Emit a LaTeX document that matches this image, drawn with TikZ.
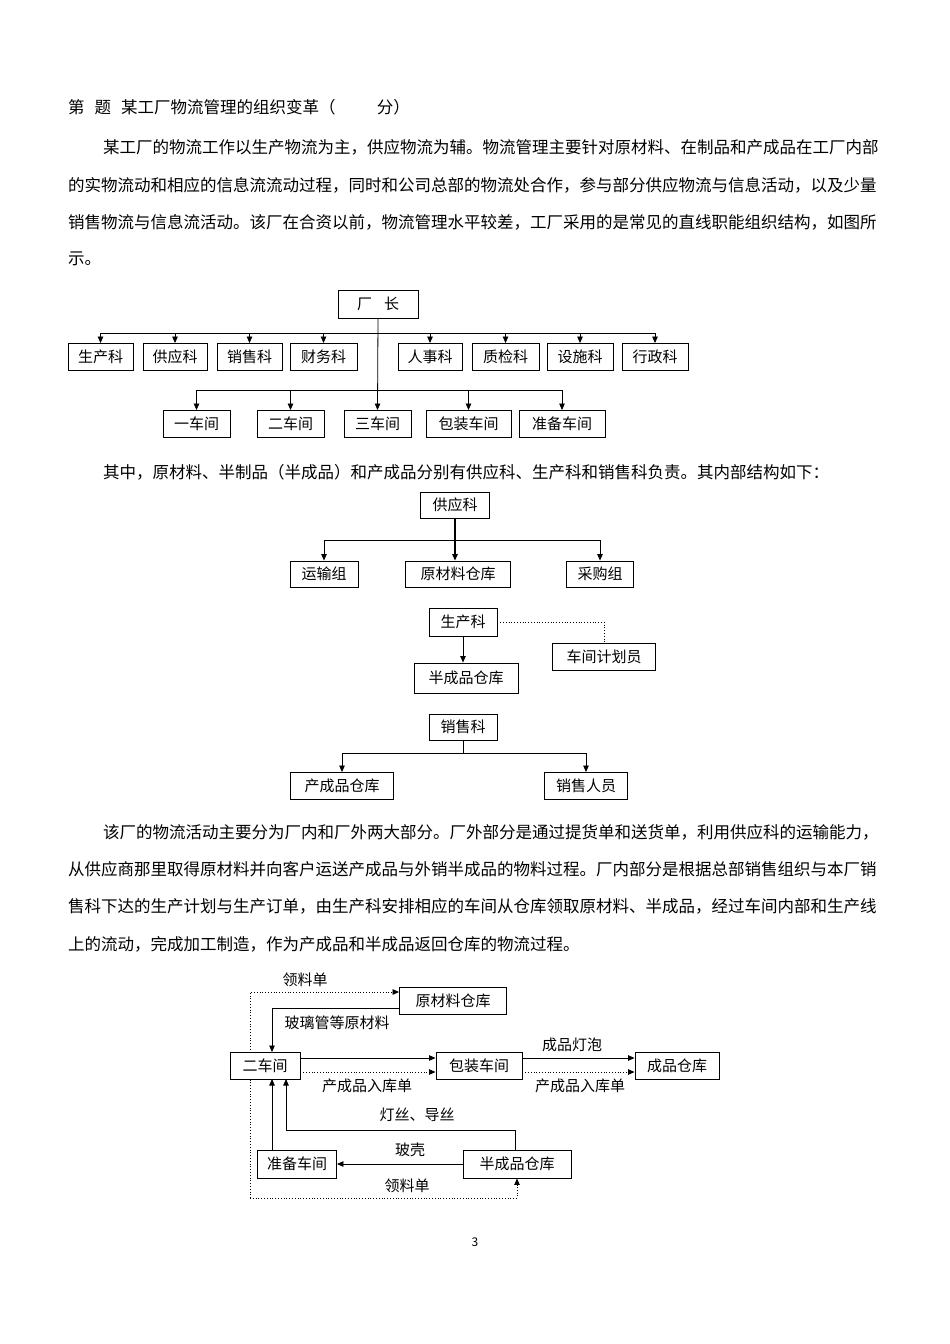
\documentclass[tikz,border=0pt]{standalone}
\usepackage{fontspec}
\setmainfont{Noto Sans CJK SC}
\usetikzlibrary{arrows.meta,backgrounds}
\begin{document}
\begin{tikzpicture}[x=1pt,y=-1pt,
 txt/.style={anchor=west,inner sep=0pt,font=\fontsize{16.5}{18}\selectfont},
 bx/.style={draw,fill=white,line width=0.9pt,inner sep=0pt,font=\fontsize{15}{16}\selectfont},
 lb/.style={inner sep=0pt,font=\fontsize{15}{16}\selectfont},
 arr/.style={-{Triangle[length=6.5pt,width=5.5pt]},line width=0.8pt},
 dot/.style={dotted,line width=0.8pt},
 ln/.style={line width=0.8pt}]
\useasboundingbox (0,0) rectangle (950,1344);
% paragraphs
\node[txt] (t0) at (68,107) {第\hspace{0.6em}题\hspace{0.6em}某工厂物流管理的组织变革（\hspace{2.5em}分）};
\node[txt] (t1) at (103,147) {某工厂的物流工作以生产物流为主，供应物流为辅。物流管理主要针对原材料、在制品和产成品在工厂内部};
\node[txt] (t2) at (68,185) {的实物流动和相应的信息流流动过程，同时和公司总部的物流处合作，参与部分供应物流与信息活动，以及少量};
\node[txt] (t3) at (68,222) {销售物流与信息流活动。该厂在合资以前，物流管理水平较差，工厂采用的是常见的直线职能组织结构，如图所};
\node[txt] (t4) at (68,259) {示。};
\node[txt] (t5) at (103,472) {其中，原材料、半制品（半成品）和产成品分别有供应科、生产科和销售科负责。其内部结构如下：};
\node[txt] (t6) at (103,832) {该厂的物流活动主要分为厂内和厂外两大部分。厂外部分是通过提货单和送货单，利用供应科的运输能力，};
\node[txt] (t7) at (68,869) {从供应商那里取得原材料并向客户运送产成品与外销半成品的物料过程。厂内部分是根据总部销售组织与本厂销};
\node[txt] (t8) at (68,906) {售科下达的生产计划与生产订单，由生产科安排相应的车间从仓库领取原材料、半成品，经过车间内部和生产线};
\node[txt] (t9) at (68,944) {上的流动，完成加工制造，作为产成品和半成品返回仓库的物流过程。};
\node[inner sep=0pt,font=\fontsize{12}{12}\selectfont] (pg) at (475,1242) {3};
% chart 1
\node[bx,minimum width=80,minimum height=28] (cz) at (378,304) {厂\hspace{0.8em}长};
\foreach \n/\a/\b/\t in {s1/68/133/生产科,s2/143/207/供应科,s3/217/282/销售科,s4/290/357/财务科,s5/398/462/人事科,s6/472/539/质检科,s7/547/613/设施科,s8/622/688/行政科}
 \node[bx,minimum width=\b-\a,minimum height=27] (\n) at ({(\a+\b)/2},357) {\t};
\foreach \n/\a/\b/\t in {w1/163/230/一车间,w2/257/324/二车间,w3/344/411/三车间,w4/426/511/包装车间,w5/519/605/准备车间}
 \node[bx,minimum width=\b-\a,minimum height=27] (\n) at ({(\a+\b)/2},424) {\t};
\draw[ln] (s1.north |- 0,333) -- (s8.north |- 0,333);
\draw[ln] (w1.north |- 0,390) -- (w5.north |- 0,390);
\foreach \n in {s1,s2,s3,s4,s5,s6,s7,s8} \draw[arr] (\n.north |- 0,333) -- (\n.north);
\foreach \n in {w1,w2,w4,w5} \draw[arr] (\n.north |- 0,390) -- (\n.north);
\draw[arr] (cz.south) -- (w3.north);
% chart 2
\node[bx,minimum width=69,minimum height=26] (gy) at (455,505) {供应科};
\node[bx,minimum width=68,minimum height=26] (ys) at (324,574) {运输组};
\node[bx,minimum width=105,minimum height=26] (ycl) at (458,574) {原材料仓库};
\node[bx,minimum width=67,minimum height=26] (cg) at (600,574) {采购组};
\draw[ln] (ys.north |- 0,540) -- (cg.north |- 0,540);
\draw[arr] (ys.north |- 0,540) -- (ys.north);
\draw[arr] (cg.north |- 0,540) -- (cg.north);
\draw[arr,line width=1.2pt] (gy.south) -- (gy.south |- ycl.north);
\node[bx,minimum width=68,minimum height=28] (sc) at (463,622) {生产科};
\node[bx,minimum width=103,minimum height=27] (jh) at (604,657) {车间计划员};
\node[bx,minimum width=104,minimum height=30] (bcp) at (466,678) {半成品仓库};
\draw[dot] (sc.east) -| (jh.north);
\draw[arr] (sc.south) -- (sc.south |- bcp.north);
\node[bx,minimum width=68,minimum height=26] (xs) at (463,727) {销售科};
\node[bx,minimum width=103,minimum height=27] (ccp) at (342,786) {产成品仓库};
\node[bx,minimum width=83,minimum height=27] (xr) at (586,786) {销售人员};
\coordinate (xm) at (463,753);
\draw[ln] (xs.south) -- (xm);
\draw[arr] (xm) -| (ccp.north);
\draw[arr] (xm) -| (xr.north);
% chart 3
\node[bx,minimum width=70,minimum height=27] (ej) at (265,1066) {二车间};
\node[bx,minimum width=107,minimum height=27] (yk) at (453,1001) {原材料仓库};
\node[bx,minimum width=86,minimum height=27] (bz) at (479,1066) {包装车间};
\node[bx,minimum width=84,minimum height=27] (cpk) at (677,1066) {成品仓库};
\node[bx,minimum width=79,minimum height=28] (zb) at (297,1164) {准备车间};
\node[bx,minimum width=108,minimum height=28] (bk) at (517,1164) {半成品仓库};
\coordinate (lt) at (250,992);
\coordinate (lb2) at (250,1198);
\begin{scope}[on background layer]
\draw[dot,-{Triangle[length=6.5pt,width=5.5pt]}] (lb2) -- (lt) -- (yk.west |- lt);
\draw[dot,-{Triangle[length=6.5pt,width=5.5pt]}] (lb2) -| (bk.south);
\end{scope}
\node[lb] (l1) at (305,980) {领料单};
\node[lb] (l2) at (407,1186) {领料单};
\draw[arr] (yk.west |- 0,1008) -| (272,1052);
\node[lb] (l3) at (337,1023) {玻璃管等原材料};
\draw[arr] (ej.east |- 0,1058) -- (bz.west |- 0,1058);
\draw[dot,-{Triangle[length=6.5pt,width=5.5pt]}] (ej.east |- 0,1072) -- (bz.west |- 0,1072);
\node[lb] (l4) at (367,1086) {产成品入库单};
\draw[arr] (bz.east |- 0,1058) -- (cpk.west |- 0,1058);
\draw[dot,-{Triangle[length=6.5pt,width=5.5pt]}] (bz.east |- 0,1072) -- (cpk.west |- 0,1072);
\node[lb] (l5) at (572,1045) {成品灯泡};
\node[lb] (l6) at (580,1086) {产成品入库单};
\draw[arr] (272,1150) -- (272,1079);
\draw[arr] (515,1150) |- (286,1130) -- (286,1079);
\node[lb] (l7) at (417,1115) {灯丝、导丝};
\draw[arr] (bk.west) -- (zb.east);
\node[lb] (l8) at (410,1150) {玻壳};
\end{tikzpicture}
\end{document}
